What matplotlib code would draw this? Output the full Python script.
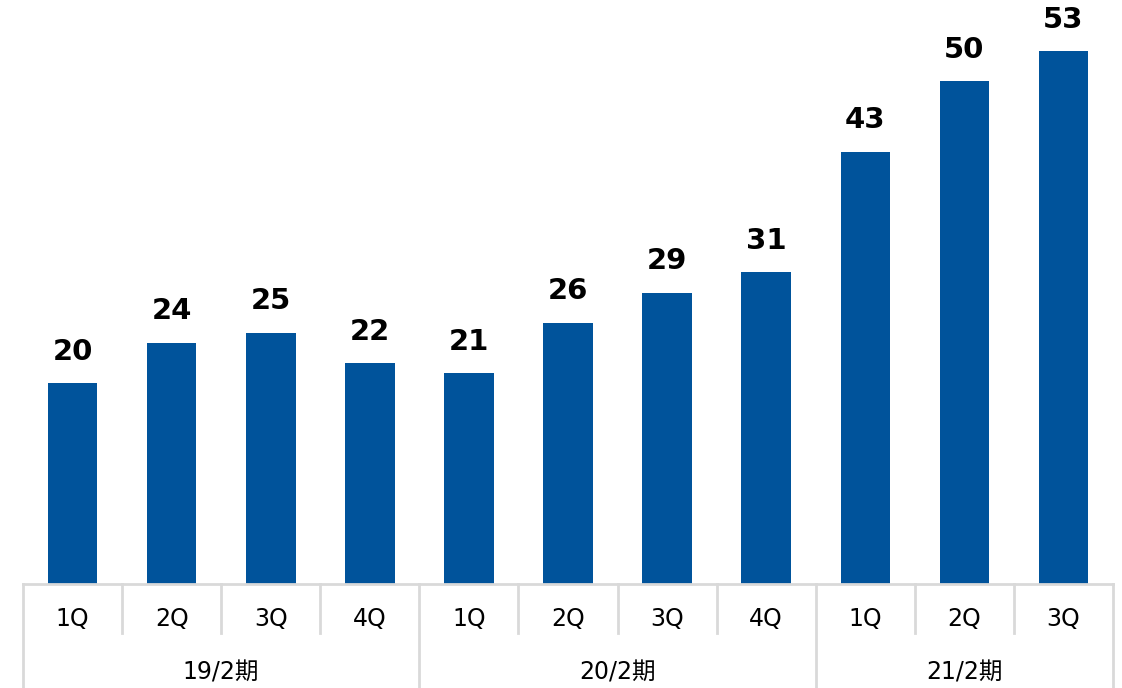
import matplotlib
matplotlib.use("Agg")
import matplotlib.pyplot as plt
from matplotlib.transforms import blended_transform_factory

plt.rcParams['font.family'] = ['DejaVu Sans', 'Noto Sans CJK JP']

quarters = ["1Q", "2Q", "3Q", "4Q", "1Q", "2Q", "3Q", "4Q", "1Q", "2Q", "3Q"]
periods = ["19/2期", "20/2期", "21/2期"]
period_sizes = [4, 4, 3]
values = [20, 24, 25, 22, 21, 26, 29, 31, 43, 50, 53]

BAR_COLOR = "#00539B"
GRID_COLOR = "#D9D9D9"

W, H = 1122, 688
fig = plt.figure(figsize=(W / 100, H / 100), dpi=100)
ax_bottom_px = 584
ax = fig.add_axes([23 / W, (H - ax_bottom_px) / H, (1113 - 23) / W, ax_bottom_px / H])

x = list(range(len(values)))
bars = ax.bar(x, values, width=0.5, color=BAR_COLOR, zorder=3)
ax.set_xlim(-0.5, len(values) - 0.5)
ax.set_ylim(0, 58.1)

for xi, v in zip(x, values):
    ax.annotate(f"{v}", xy=(xi, v), xytext=(0, 12.5), textcoords="offset points",
                ha="center", va="bottom", fontsize=21, fontweight="bold", color="#000000")

for s in ax.spines.values():
    s.set_visible(False)
ax.set_xticks([])
ax.set_yticks([])

trans = blended_transform_factory(ax.transData, ax.transAxes)

def ay(px):
    # pixel row in the figure -> axes fraction
    return (ax_bottom_px - px) / ax_bottom_px

# category axis baseline
ax.plot([-0.5, len(values) - 0.5], [0, 0], transform=trans, color=GRID_COLOR,
        lw=2, clip_on=False, zorder=4)

# period boundaries
bounds = [-0.5]
for n in period_sizes:
    bounds.append(bounds[-1] + n)
for b in bounds:
    ax.plot([b, b], [0, ay(688)], transform=trans, color=GRID_COLOR, lw=2, clip_on=False)

# quarter separators
for i in range(len(values) - 1):
    b = i + 0.5
    if b in bounds:
        continue
    ax.plot([b, b], [0, ay(633)], transform=trans, color=GRID_COLOR, lw=2, clip_on=False)

for xi, q in zip(x, quarters):
    ax.text(xi, ay(619), q, transform=trans, ha="center", va="center",
            fontsize=17, color="#000000")

for i, p in enumerate(periods):
    cx = (bounds[i] + bounds[i + 1]) / 2
    ax.text(cx, ay(672), p, transform=trans, ha="center", va="center",
            fontsize=17, color="#000000")

fig.savefig("out.png", dpi=100)
